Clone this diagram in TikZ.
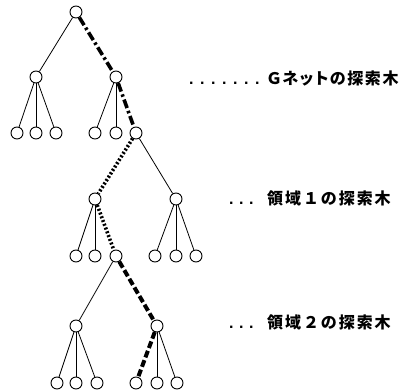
\documentclass[tikz,border=0pt]{standalone}
\usepackage{fontspec}
\newfontfamily\jp[LetterSpace=12]{Noto Sans CJK JP}
\newfontfamily\jpp[LetterSpace=10,RawFeature=+palt]{Noto Sans CJK JP}
\newfontfamily\dotfont{Liberation Sans}
\newcommand\dd{\makebox[0pt][l]{\dotfont\bfseries\fontsize{16}{16}\selectfont .}}
\begin{document}
\begin{tikzpicture}[x=1pt,y=-1pt,
  nd/.style={circle,draw,line width=0.9pt,minimum size=12pt,inner sep=0pt,fill=white},
  thin/.style={line width=0.8pt},
  dashdot/.style={line width=3.6pt,dash pattern=on 9pt off 3pt on 2.5pt off 3pt},
  dotline/.style={line width=3.6pt,dash pattern=on 2pt off 2pt},
  dashline/.style={line width=4pt,dash pattern=on 7pt off 3pt},
  lbl/.style={anchor=west,inner sep=0pt}]
\useasboundingbox (0,0) rectangle (400,391);
% G-net tree
\node[nd] (r) at (76,12) {};
\node[nd] (a1) at (36,77) {};
\node[nd] (a2) at (116,77) {};
\node[nd] (a11) at (17,133) {};
\node[nd] (a12) at (36,133) {};
\node[nd] (a13) at (56,133) {};
\node[nd] (a21) at (95,133) {};
\node[nd] (a22) at (116,133) {};
\node[nd] (b) at (136,133) {};
% region 1 tree
\node[nd] (b1) at (95,199) {};
\node[nd] (b2) at (176,199) {};
\node[nd] (b11) at (76,256) {};
\node[nd] (b12) at (95,256) {};
\node[nd] (c) at (116,256) {};
\node[nd] (b21) at (155,256) {};
\node[nd] (b22) at (176,256) {};
\node[nd] (b23) at (196,256) {};
% region 2 tree
\node[nd] (c1) at (76,326) {};
\node[nd] (c2) at (157,326) {};
\node[nd] (c11) at (57,383) {};
\node[nd] (c12) at (76,383) {};
\node[nd] (c13) at (97,383) {};
\node[nd] (c21) at (136,383) {};
\node[nd] (c22) at (157,383) {};
\node[nd] (c23) at (177,383) {};
% thin edges
\draw[thin] (r) -- (a1);
\draw[thin] (a1) -- (a11); \draw[thin] (a1) -- (a12); \draw[thin] (a1) -- (a13);
\draw[thin] (a2) -- (a21); \draw[thin] (a2) -- (a22);
\draw[thin] (b) -- (b2);
\draw[thin] (b1) -- (b11); \draw[thin] (b1) -- (b12);
\draw[thin] (b2) -- (b21); \draw[thin] (b2) -- (b22); \draw[thin] (b2) -- (b23);
\draw[thin] (c) -- (c1);
\draw[thin] (c1) -- (c11); \draw[thin] (c1) -- (c12); \draw[thin] (c1) -- (c13);
\draw[thin] (c2) -- (c22); \draw[thin] (c2) -- (c23);
% search path
\draw[dashdot] (r) -- (a2);
\draw[dashdot] (a2) -- (b);
\draw[dotline] (b) -- (b1);
\draw[dotline] (b1) -- (c);
\draw[dashline] (c) -- (c2);
\draw[dashline] (c2) -- (c21);
% labels
\node[lbl] (l1) at (189,78) {\makebox[78pt][l]{\dd\hspace{11pt}\dd\hspace{11pt}\dd\hspace{11pt}\dd\hspace{11pt}\dd\hspace{11pt}\dd\hspace{11pt}\dd}\jpp\bfseries\fontsize{16}{16}\selectfont Ｇネットの探索木};
\node[lbl] (l2) at (229,198) {\makebox[38pt][l]{\dd\hspace{10pt}\dd\hspace{10pt}\dd}\jp\bfseries\fontsize{16}{16}\selectfont 領域１の探索木};
\node[lbl] (l3) at (229,322) {\makebox[38pt][l]{\dd\hspace{10pt}\dd\hspace{10pt}\dd}\jp\bfseries\fontsize{16}{16}\selectfont 領域２の探索木};
\end{tikzpicture}
\end{document}
